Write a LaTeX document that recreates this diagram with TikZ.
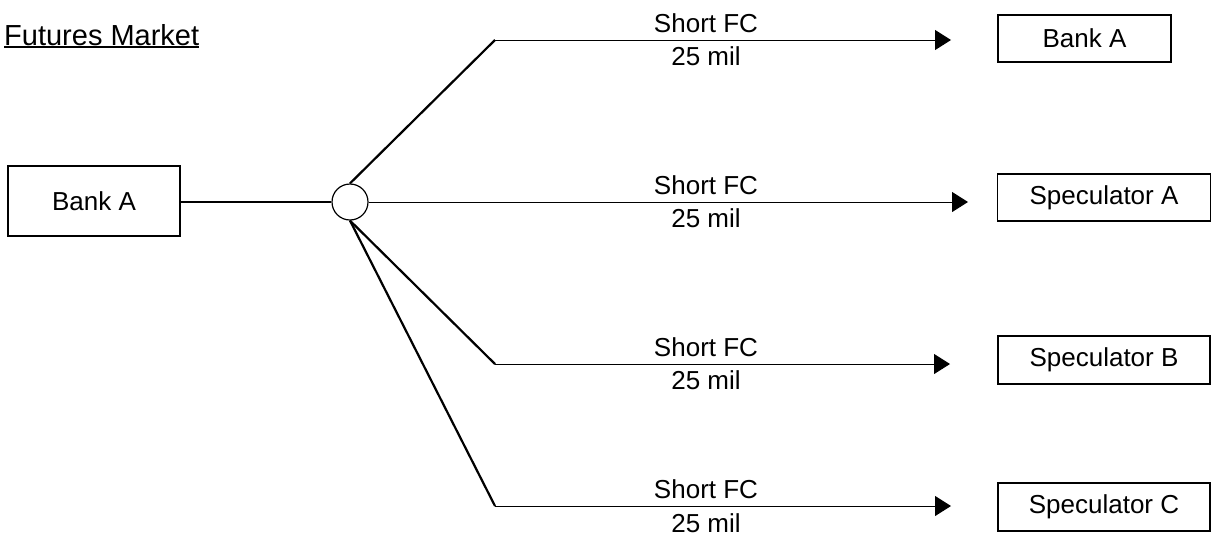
\documentclass[tikz,border=0pt]{standalone}
\usepackage{fontspec}
\setmainfont{Liberation Sans}
\usetikzlibrary{arrows.meta}
\begin{document}
\begin{tikzpicture}[x=1pt,y=-1pt,
  box/.style={draw,line width=1.8pt,inner sep=0pt,font=\fontsize{26}{30}\selectfont},
  lbl/.style={anchor=base,inner sep=0pt,font=\fontsize{26}{30}\selectfont},
  diag/.style={line width=2.2pt},
  flow/.style={line width=1pt,-{Triangle[length=16pt,width=20pt]}},
  hub/.style={circle,draw,line width=1.2pt,minimum size=36pt,inner sep=0pt}]
\useasboundingbox (0,0) rectangle (1212,536);
% title
\node[anchor=base west,inner sep=0pt,font=\fontsize{29}{33}\selectfont] (title) at (4,45) {Futures Market};
\draw[line width=1.5pt] ([yshift=-2pt]title.base west) -- ([yshift=-2pt]title.base east);
% left box and hub
\node[box,minimum width=172pt,minimum height=70pt] (bankL) at (94,201) {Bank A};
\node[hub] (hub) at (350,202) {};
\draw[diag] (bankL.east |- hub.west) -- (hub.west);
% right boxes
\node[box,minimum width=173pt,minimum height=47pt] (bankR) at (1084.5,38.5) {Bank A};
\node[box,minimum width=213pt,minimum height=47pt] (specA) at (1104,197.5) {Speculator A};
\node[box,minimum width=212pt,minimum height=48pt] (specB) at (1104,360) {Speculator B};
\node[box,minimum width=212pt,minimum height=48pt] (specC) at (1104,507) {Speculator C};
% corners and tips
\coordinate (k1) at (495,40);
\coordinate (t1) at (951,40);
\coordinate (t2) at (968,202);
\coordinate (k3) at (495,364);
\coordinate (t3) at (950,364);
\coordinate (k4) at (495,506);
\coordinate (t4) at (951,506);
% connectors
\draw[diag] (hub.north) -- (k1);
\draw[flow] (k1) -- (t1);
\draw[flow] (hub.east) -- (t2);
\draw[diag] (hub.south) -- (k3);
\draw[flow] (k3) -- (t3);
\draw[diag] (hub.south) -- (k4);
\draw[flow] (k4) -- (t4);
% labels
\node[lbl] (s1) at (706,32) {Short FC};
\node[lbl] (m1) at (706,65) {25 mil};
\node[lbl] (s2) at (706,194) {Short FC};
\node[lbl] (m2) at (706,227) {25 mil};
\node[lbl] (s3) at (706,356) {Short FC};
\node[lbl] (m3) at (706,389) {25 mil};
\node[lbl] (s4) at (706,498) {Short FC};
\node[lbl] (m4) at (706,532) {25 mil};
\end{tikzpicture}
\end{document}
